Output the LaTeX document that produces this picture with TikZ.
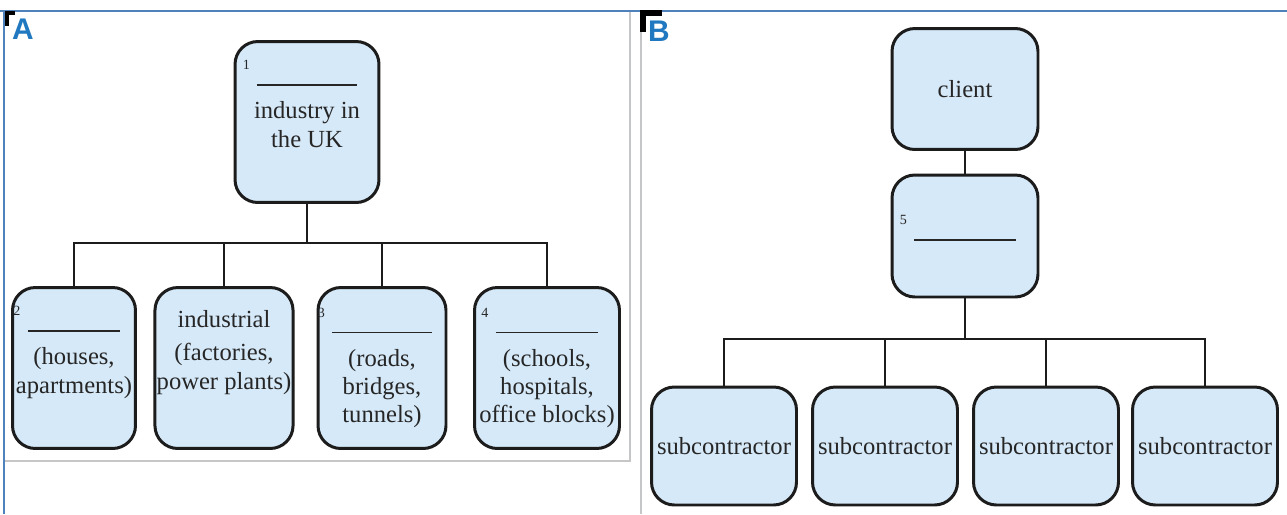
\documentclass[tikz,border=0pt]{standalone}
\usepackage{fontspec}
\setmainfont{Liberation Serif}
\newfontfamily\panelfont{Liberation Sans}
\definecolor{ink}{HTML}{1C1C1C}
\definecolor{txt}{HTML}{262626}
\definecolor{boxfill}{HTML}{D6E9F8}
\definecolor{frameblue}{HTML}{4F81BD}
\definecolor{panelgray}{HTML}{C4C6C8}
\definecolor{letterblue}{HTML}{2079C0}
\newcommand{\blankline}[2][2cm]{\makebox[0pt][r]{\raisebox{9pt}{\fontsize{8}{8}\selectfont #2}\hspace{4pt}}\rule{#1}{0.9pt}}

\begin{document}
\begin{tikzpicture}[
  x=0.02cm, y=-0.02cm,
  font=\fontsize{14}{16}\selectfont,
  box/.style    = {draw=ink, line width=1.7pt, rounded corners=13pt, fill=boxfill,
                   text=txt, align=center, inner sep=1pt},
  tallbox/.style = {box, minimum height=3.22cm},
  subbox/.style = {box, minimum width=2.90cm, minimum height=2.36cm},
  link/.style   = {draw=ink, line width=1.4pt},
  frame/.style  = {draw=frameblue, line width=1.3pt},
  panel/.style  = {draw=panelgray, line width=1.2pt},
  crop/.style   = {draw=black, line width=2.2pt},
  letter/.style = {font=\panelfont\bfseries\fontsize{17}{17}\selectfont, text=letterblue, inner sep=0pt},
]
\useasboundingbox (0,0) rectangle (1287,514);
\fill[white] (0,0) rectangle (1287,514);

% ---------- frames ----------
\draw[panel] (4,461) -- (630,461) -- (630,11);
\draw[panel] (641,11) -- (641,514);
\draw[frame] (0,11) -- (1287,11);
\draw[frame] (4,11) -- (4,514);
\draw[crop] (15,13) -- (7,13) -- (7,26);
\draw[crop, line width=3pt] (662,13) -- (643,13) -- (643,32);

\node[letter] (labA) at (23,29) {A};
\node[letter] (labB) at (659,31) {B};

% ---------- panel A ----------
\node[tallbox, minimum width=2.88cm] (industry) at (307,122)
  {\blankline{1}\\[3pt] industry in\\ the UK\\ \strut};
\node[tallbox, minimum width=2.46cm] (houses) at (74,368)
  {\blankline[1.86cm]{2}\\[3pt] (houses,\\ apartments)\\ \strut};
\node[tallbox, minimum width=2.76cm] (industrial) at (224,368)
  {industrial\\[3pt] (factories,\\ power plants)\\ \strut};
\node[tallbox, minimum width=2.56cm] (civil) at (382,368)
  {\blankline{3}\\[3pt] (roads,\\ bridges,\\ tunnels)};
\node[tallbox, minimum width=2.90cm] (commercial) at (547,368)
  {\blankline[2.06cm]{4}\\[3pt] (schools,\\ hospitals,\\ office blocks)};

\coordinate (forkA) at (307,243);
\draw[link] (industry.south) -- (forkA);
\foreach \kid in {houses,industrial,civil,commercial}
  \draw[link] (forkA) -| (\kid.north);

% ---------- panel B ----------
\node[box, minimum width=2.92cm, minimum height=2.42cm] (client) at (965,89) {client};
\node[box, minimum width=2.92cm, minimum height=2.44cm] (contractor) at (965,236)
  {\raisebox{0pt}[14.3pt][9pt]{\blankline[2.04cm]{5}}};
\node[subbox] (sub1) at (724,446) {subcontractor};
\node[subbox] (sub2) at (885,446) {subcontractor};
\node[subbox] (sub3) at (1046,446) {subcontractor};
\node[subbox] (sub4) at (1205,446) {subcontractor};

\draw[link] (client) -- (contractor);
\coordinate (forkB) at (965,339);
\draw[link] (contractor.south) -- (forkB);
\foreach \kid in {sub1,sub2,sub3,sub4}
  \draw[link] (forkB) -| (\kid.north);

\end{tikzpicture}
\end{document}
